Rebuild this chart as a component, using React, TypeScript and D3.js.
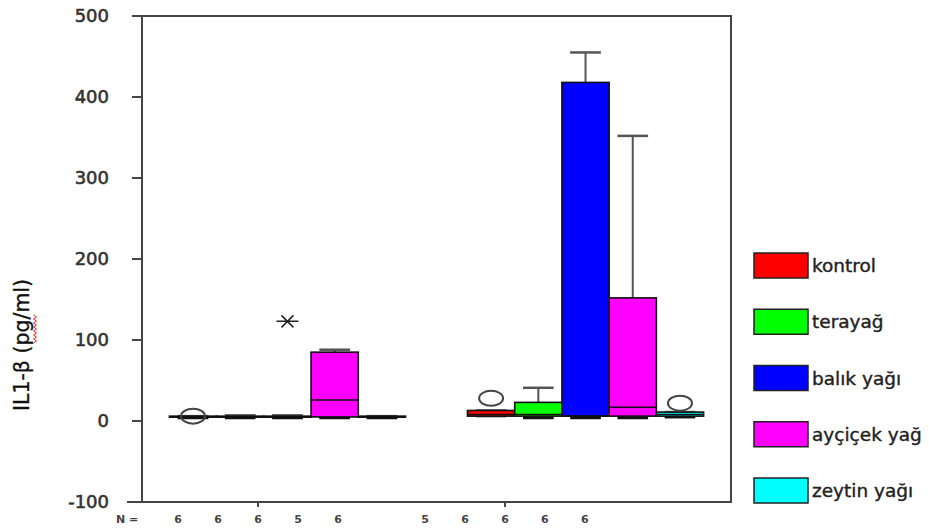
import { useEffect, useRef } from 'react';
import * as d3 from 'd3';

const groups = ['g1', 'g2'];
const categories = ['kontrol', 'terayağ', 'balık yağı', 'ayçiçek yağ', 'zeytin yağı'];
const colors = ['#ff0000', '#00ff00', '#0000ff', '#ff00ff', '#00ffff'];

// box statistics, one row per group, one entry per category
const lowWhisker = [
  [4, 4, 4, 4, 4],
  [6, 4, 4, 4, 5],
];
const q1 = [
  [5, 5, 5, 5, 5],
  [6, 6, 6, 6, 6],
];
const median = [
  [5, 5, 5, 26, 5],
  [8, 8, 6, 17, 8],
];
const q3 = [
  [6, 6, 6, 85, 6],
  [13, 23, 418, 152, 11],
];
const highWhisker = [
  [6, 7, 7, 88, 6],
  [13, 41, 455, 352, 11],
];
const outliers = [
  [[6], [], [], [], []],
  [[28], [], [], [], [22]],
];
const extremes = [
  [[], [], [123], [], []],
  [[], [], [], [], []],
];
const nCounts = [
  [6, 6, 6, 5, 6],
  [5, 6, 6, 6, 6],
];
const yTicks = [-100, 0, 100, 200, 300, 400, 500];

const W = 929;
const H = 528;
const FONT = '"DejaVu Sans", Verdana, sans-serif';

export default function App() {
  const ref = useRef<SVGSVGElement>(null);

  useEffect(() => {
    if (!ref.current) return;
    const svg = d3.select(ref.current);
    svg.selectAll('*').remove();

    const left = 142;
    const right = 731;
    const top = 16;
    const bottom = 502;
    const axisColor = '#444';

    const y = d3.scaleLinear().domain([-100, 500]).range([bottom, top]);
    const xGroup = d3.scaleBand().domain(groups).range([left, right]).paddingInner(0.208).paddingOuter(0.092);
    const xCat = d3.scaleBand().domain(categories).range([0, xGroup.bandwidth()]);
    // the N row sits on its own (narrower) spacing
    const nGroup = d3.scaleBand().domain(groups).range([left, 621]).paddingInner(0.19).paddingOuter(0.065);
    const nCat = d3.scaleBand().domain(categories).range([0, nGroup.bandwidth()]);

    // frame
    svg
      .append('path')
      .attr('d', `M${left},${top}H${right}V${bottom}H127M${left},${top}V${bottom}`)
      .attr('fill', 'none')
      .attr('stroke', axisColor)
      .attr('stroke-width', 2);

    // y axis ticks + labels
    yTicks.forEach((t) => {
      svg
        .append('line')
        .attr('x1', 132)
        .attr('x2', left)
        .attr('y1', y(t))
        .attr('y2', y(t))
        .attr('stroke', axisColor)
        .attr('stroke-width', 2);
      svg
        .append('text')
        .attr('x', 109)
        .attr('y', y(t))
        .attr('dy', '0.36em')
        .attr('text-anchor', 'end')
        .style('font-family', FONT)
        .style('font-size', '18px')
        .style('stroke', '#333')
        .style('stroke-width', 0.6)
        .attr('fill', '#333')
        .text(t);
    });

    // y label
    const labelX = 29;
    const labelY = 345;
    svg
      .append('text')
      .attr('transform', `translate(${labelX},${labelY}) rotate(-90)`)
      .attr('text-anchor', 'middle')
      .style('font-family', FONT)
      .style('font-size', '20.5px')
      .style('stroke', '#111')
      .style('stroke-width', 0.3)
      .attr('fill', '#111')
      .text('IL1-β (pg/ml)');
    // spell-check squiggle under "pg"
    const squiggle = d3.range(0, 29, 2).map((d, i) => [labelX + 6 + (i % 2 ? 1.5 : -1.5), labelY - 30 + d] as [number, number]);
    svg
      .append('path')
      .attr('d', d3.line()(squiggle))
      .attr('fill', 'none')
      .attr('stroke', '#ff2020')
      .attr('stroke-width', 1);

    // boxes
    groups.forEach((g, gi) => {
      categories.forEach((c, ci) => {
        const x0 = (xGroup(g) ?? 0) + (xCat(c) ?? 0);
        const bw = xCat.bandwidth();
        const cx = x0 + bw / 2;
        const capW = bw * 0.65;
        const wg = svg.append('g');
        // whiskers
        [
          [q3[gi][ci], highWhisker[gi][ci]],
          [q1[gi][ci], lowWhisker[gi][ci]],
        ].forEach(([a, b]) => {
          wg.append('line')
            .attr('x1', cx)
            .attr('x2', cx)
            .attr('y1', y(a))
            .attr('y2', y(b))
            .attr('stroke', '#555')
            .attr('stroke-width', 2);
          wg.append('line')
            .attr('x1', cx - capW / 2)
            .attr('x2', cx + capW / 2)
            .attr('y1', y(b))
            .attr('y2', y(b))
            .attr('stroke', b < a ? '#111' : '#555')
            .attr('stroke-width', b < a ? 3 : 2.5);
        });
        wg.append('rect')
          .attr('x', x0)
          .attr('width', bw)
          .attr('y', y(q3[gi][ci]))
          .attr('height', Math.max(1, y(q1[gi][ci]) - y(q3[gi][ci])))
          .attr('fill', colors[ci])
          .attr('stroke', '#111')
          .attr('stroke-width', 1.6);
        wg.append('line')
          .attr('x1', x0)
          .attr('x2', x0 + bw)
          .attr('y1', y(median[gi][ci]))
          .attr('y2', y(median[gi][ci]))
          .attr('stroke', '#111')
          .attr('stroke-width', 1.6);
        outliers[gi][ci].forEach((v) => {
          wg.append('ellipse')
            .attr('cx', cx)
            .attr('cy', y(v))
            .attr('rx', 12)
            .attr('ry', 7.5)
            .attr('fill', 'none')
            .attr('stroke', '#444')
            .attr('stroke-width', 2);
        });
        extremes[gi][ci].forEach((v) => {
          const ey = y(v);
          wg.append('path')
            .attr('d', `M${cx - 11},${ey}H${cx + 11}M${cx - 6},${ey - 6}L${cx + 6},${ey + 6}M${cx - 6},${ey + 6}L${cx + 6},${ey - 6}`)
            .attr('stroke', '#222')
            .attr('stroke-width', 1.5);
        });
      });
    });

    // x axis ticks and N row
    groups.forEach((g, gi) => {
      const gc = (nGroup(g) ?? 0) + nGroup.bandwidth() / 2;
      svg
        .append('line')
        .attr('x1', gc)
        .attr('x2', gc)
        .attr('y1', bottom)
        .attr('y2', bottom + 5)
        .attr('stroke', axisColor)
        .attr('stroke-width', 2);
      categories.forEach((c, ci) => {
        svg
          .append('text')
          .attr('x', (nGroup(g) ?? 0) + (nCat(c) ?? 0) + nCat.bandwidth() / 2)
          .attr('y', 523)
          .attr('text-anchor', 'middle')
          .style('font-family', FONT)
          .style('font-size', '11px')
          .style('font-weight', 'bold')
          .attr('fill', '#444')
          .text(nCounts[gi][ci]);
      });
    });
    svg
      .append('text')
      .attr('x', 116)
      .attr('y', 523)
      .style('font-family', FONT)
      .style('font-size', '11px')
      .style('font-weight', 'bold')
      .attr('fill', '#444')
      .text('N =');

    // legend
    const legendY = d3.scalePoint().domain(categories).range([253, 478]);
    categories.forEach((c, ci) => {
      const ly = legendY(c) ?? 0;
      svg
        .append('rect')
        .attr('x', 754)
        .attr('y', ly)
        .attr('width', 54)
        .attr('height', 25)
        .attr('fill', colors[ci])
        .attr('stroke', '#222')
        .attr('stroke-width', 1.5);
      svg
        .append('text')
        .attr('x', 812)
        .attr('y', ly + 19)
        .style('font-family', FONT)
        .style('font-size', '18.5px')
        .style('stroke', '#222')
        .style('stroke-width', 0.4)
        .attr('fill', '#222')
        .text(c);
    });
  }, []);

  return <svg ref={ref} width={W} height={H} style={{ position: 'absolute', left: 0, top: 0, background: '#fff' }} />;
}
